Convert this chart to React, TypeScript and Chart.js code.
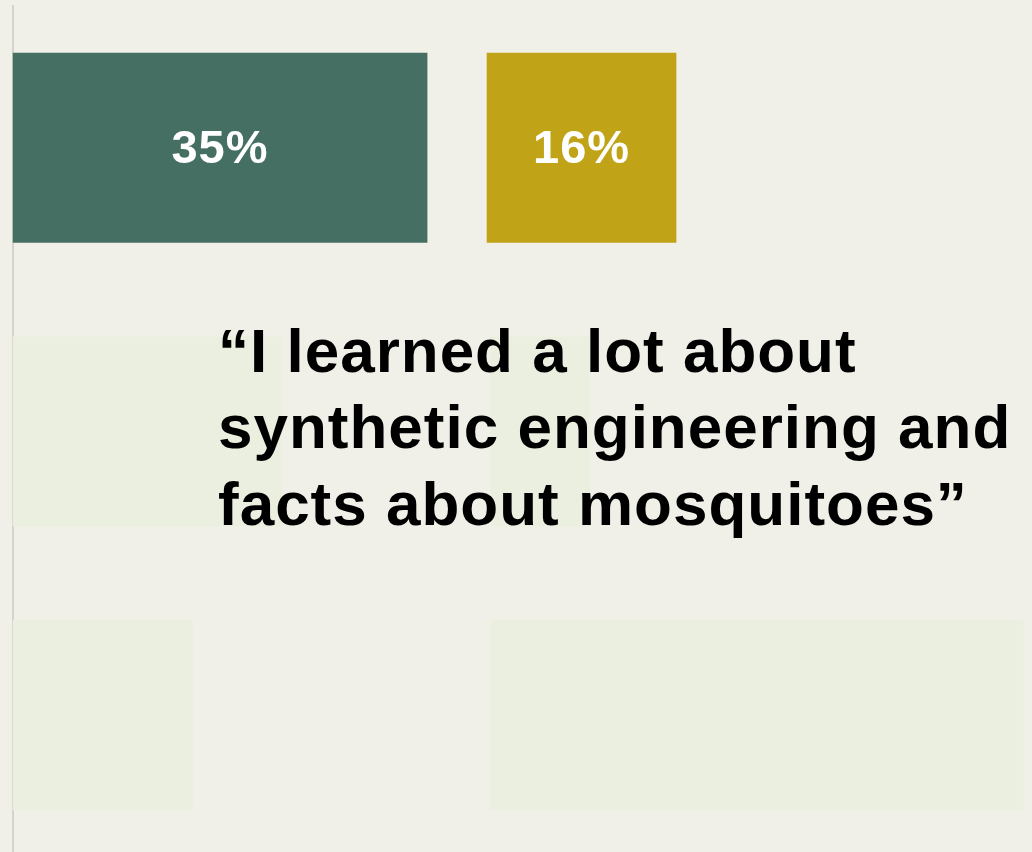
import React, { useEffect, useRef } from "react";
import { Chart, registerables } from "chart.js";

Chart.register(...registerables);

// Three survey rows; each row is a stacked bar: first segment, spacer, second segment.
const rows = ["Row 1", "Row 2", "Row 3"];
const firstSegment = [35, 22.7, 15.2];
const spacer = [5, 17.6, 25.1];
const secondSegment = [16, 8.4, 45];

// Only the top row carries the solid colours and the value labels.
const firstColors = ["#466F63", "#EBEFDF", "#EBEFDF"];
const secondColors = ["#C1A318", "#EBEFDF", "#EBEFDF"];
const showLabel = [true, false, false];

const quoteLines = [
  "\u201CI learned a lot about",
  "synthetic engineering and",
  "facts about mosquitoes\u201D",
];

const BG = "#F1F0E8";

const labelsPlugin = {
  id: "segmentLabels",
  afterDatasetsDraw(chart: any) {
    const ctx = chart.ctx;
    ctx.save();
    ctx.fillStyle = "#FFFFFF";
    ctx.font = "bold 47px 'Liberation Sans', Arial, sans-serif";
    (ctx as any).letterSpacing = "1px";
    ctx.textAlign = "center";
    ctx.textBaseline = "middle";
    [0, 2].forEach((dsIndex) => {
      const meta = chart.getDatasetMeta(dsIndex);
      const values = chart.data.datasets[dsIndex].data as number[];
      meta.data.forEach((bar: any, i: number) => {
        if (!showLabel[i]) return;
        const cx = (bar.x + bar.base) / 2;
        ctx.fillText(values[i] + "%", cx, bar.y + 2);
      });
    });
    ctx.restore();
  },
};

const quotePlugin = {
  id: "quoteText",
  afterDraw(chart: any) {
    const ctx = chart.ctx;
    ctx.save();
    ctx.fillStyle = "#000000";
    ctx.font = "bold 62px 'Liberation Sans', Arial, sans-serif";
    (ctx as any).letterSpacing = "1px";
    ctx.textAlign = "left";
    ctx.textBaseline = "alphabetic";
    const x = 218;
    const firstBaseline = 372;
    const lineStep = 76.3;
    quoteLines.forEach((line, i) => {
      ctx.fillText(line, x, firstBaseline + i * lineStep);
    });
    ctx.restore();
  },
};

export default function App() {
  const canvasRef = useRef<HTMLCanvasElement | null>(null);

  useEffect(() => {
    if (!canvasRef.current) return;
    const chart = new Chart(canvasRef.current, {
      type: "bar",
      data: {
        labels: rows,
        datasets: [
          {
            label: "First",
            data: firstSegment,
            backgroundColor: firstColors,
            borderWidth: 0,
            barPercentage: 0.67,
            categoryPercentage: 1,
          },
          {
            label: "Spacer",
            data: spacer,
            backgroundColor: "rgba(0,0,0,0)",
            borderWidth: 0,
            barPercentage: 0.67,
            categoryPercentage: 1,
          },
          {
            label: "Second",
            data: secondSegment,
            backgroundColor: secondColors,
            borderWidth: 0,
            barPercentage: 0.67,
            categoryPercentage: 1,
          },
        ],
      },
      options: {
        indexAxis: "y",
        responsive: false,
        animation: false,
        layout: { padding: { left: 12.5, top: 6, right: 0, bottom: 0 } },
        plugins: {
          legend: { display: false },
          tooltip: { enabled: false },
          title: { display: false },
        },
        scales: {
          x: {
            stacked: true,
            display: false,
            min: 0,
            max: 86,
          },
          y: {
            stacked: true,
            display: true,
            ticks: { display: false },
            grid: { display: true, drawOnChartArea: false, drawTicks: false },
            border: { display: true, color: "#D4D3CE", width: 2 },
          },
        },
      },
      plugins: [labelsPlugin, quotePlugin],
    });
    return () => chart.destroy();
  }, []);

  return (
    <div
      style={{
        position: "fixed",
        left: 0,
        top: 0,
        width: 1032,
        height: 852,
        overflow: "hidden",
        background: BG,
      }}
    >
      <canvas ref={canvasRef} width={1032} height={857} style={{ display: "block" }} />
    </div>
  );
}
